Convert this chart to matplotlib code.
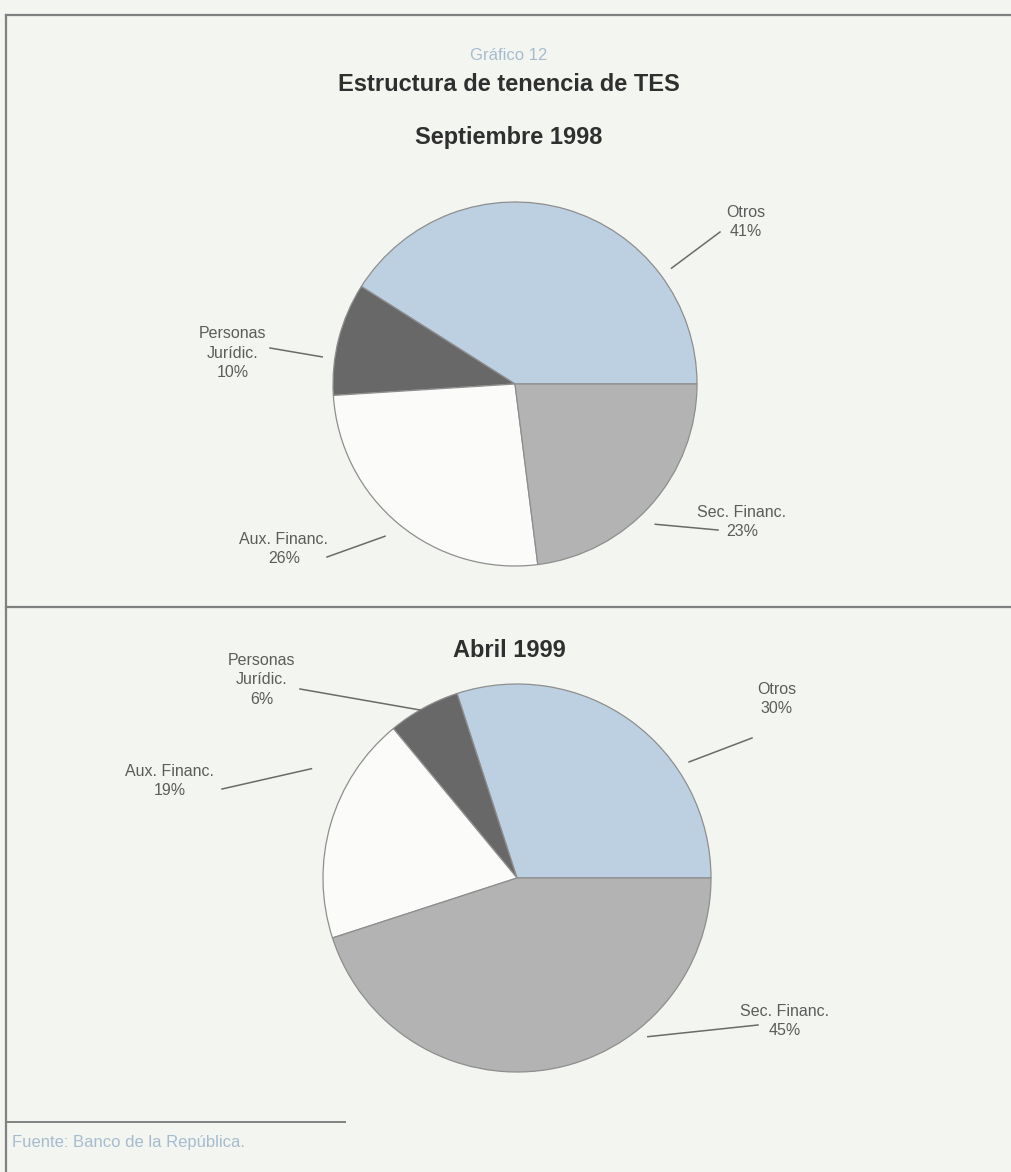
import numpy as np
import matplotlib.pyplot as plt

W, H = 1012, 1172

categories = ["Otros", "Personas\nJurídic.", "Aux. Financ.", "Sec. Financ."]
sep_1998 = [41, 10, 26, 23]
abr_1999 = [30, 6, 19, 45]
slice_colors = ["#bdd0e1", "#686868", "#fbfcfa", "#b3b3b3"]

BG = "#f3f6f0"
RULE = "#808080"
LABEL = "#5c5c5c"
TITLE = "#2f2f2f"
PALE = "#a7bbcf"

plt.rcParams["font.family"] = ["Liberation Sans", "DejaVu Sans"]

# label placement per slice: text centre (px), leader start (angle deg, radius factor), leader end (px)
layout_1998 = [
    ((746, 222), (36.5, 1.07), (720, 232)),
    ((233, 353), (172, 1.07), (270, 348)),
    ((284, 549), (229.5, 1.10), (327, 557)),
    ((742, 522), (315, 1.09), (718, 530)),
]
layout_1999 = [
    ((777, 699), (34, 1.07), (752, 738)),
    ((262, 680), (120, 1.0), (300, 689)),
    ((170, 781), (152, 1.20), (222, 789)),
    ((785, 1021), (309.5, 1.06), (758, 1025)),
]


def draw_pie(ax, values, cx, cy, r, layout):
    ax.pie(values, colors=slice_colors, startangle=0, counterclock=True,
           center=(cx, H - cy), radius=r,
           wedgeprops=dict(edgecolor="#8e8e8e", linewidth=0.9))
    for name, v, (tpos, (ang, fac), lend) in zip(categories, values, layout):
        a = np.deg2rad(ang)
        x0 = cx + fac * r * np.cos(a)
        y0 = (H - cy) + fac * r * np.sin(a)
        ax.plot([x0, lend[0]], [y0, H - lend[1]], color="#6a6a6a", lw=1.1)
        ax.text(tpos[0], H - tpos[1], f"{name}\n{v}%", ha="center", va="center",
                multialignment="center", fontsize=11.5, color=LABEL, linespacing=1.35)


fig = plt.figure(figsize=(W / 100, H / 100), dpi=100, facecolor=BG)
ax = fig.add_axes([0, 0, 1, 1])
ax.set_facecolor(BG)

draw_pie(ax, sep_1998, 515, 384, 182, layout_1998)
draw_pie(ax, abr_1999, 517, 878, 194, layout_1999)

# frame rules
ax.plot([6, W], [H - 15, H - 15], color=RULE, lw=1.6)
ax.plot([6, 6], [H - 15, 0], color=RULE, lw=1.6)
ax.plot([6, W], [H - 607, H - 607], color=RULE, lw=1.6)
ax.plot([8, 345], [H - 1122, H - 1122], color=RULE, lw=1.4)

ax.text(509, H - 55, "Gráfico 12", ha="center", va="center", fontsize=12, color=PALE)
ax.text(509, H - 84, "Estructura de tenencia de TES", ha="center", va="center",
        fontsize=17, fontweight="bold", color=TITLE)
ax.text(509, H - 137, "Septiembre 1998", ha="center", va="center",
        fontsize=17, fontweight="bold", color=TITLE)
ax.text(509, H - 650, "Abril 1999", ha="center", va="center",
        fontsize=17, fontweight="bold", color=TITLE)
ax.text(12, H - 1143, "Fuente: Banco de la República.", ha="left", va="center",
        fontsize=12, color=PALE)

ax.set_xlim(0, W)
ax.set_ylim(0, H)
ax.axis("off")

fig.savefig("out.png", dpi=100, facecolor=BG)
